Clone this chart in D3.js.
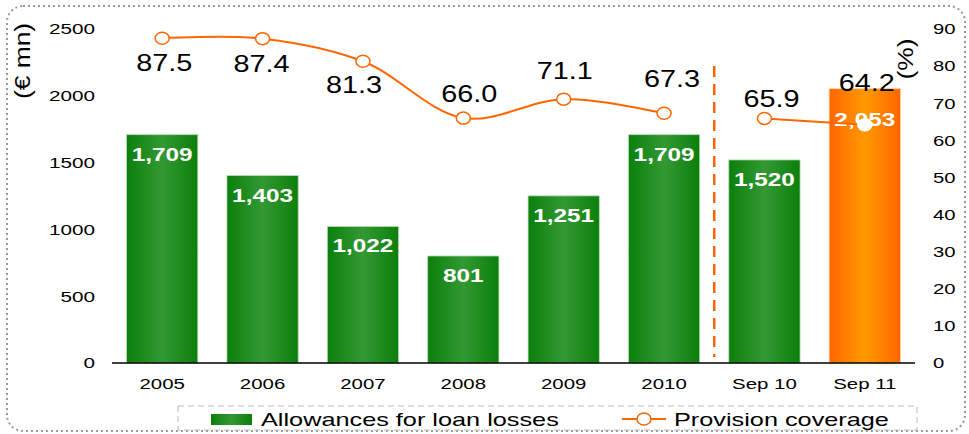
<!DOCTYPE html>
<html>
<head>
<meta charset="utf-8">
<script src="https://cdn.jsdelivr.net/npm/d3@7"></script>
<style>
  body { margin: 0; background: #fff; }
  svg { font-family: "Liberation Sans", Arial, sans-serif; }
</style>
</head>
<body>
<div id="chart"></div>
<script>
// data
const categories = ["2005", "2006", "2007", "2008", "2009", "2010", "Sep 10", "Sep 11"];
const allowances = [1709, 1403, 1022, 801, 1251, 1709, 1520, 2053];
const coverage = [87.5, 87.4, 81.3, 66.0, 71.1, 67.3, 65.9, 64.2];

const leftTicks = [0, 500, 1000, 1500, 2000, 2500];
const rightTicks = [0, 10, 20, 30, 40, 50, 60, 70, 80, 90];

// where each coverage label sits relative to its point (layout only)
const covLabelDx = [2, -1, -9, 6, 1, 8, 7, 2];
const covLabelDy = [33, 33, 32, -16, -20, -26, -11, -34];

const W = 969, H = 434;
const X0 = 112, X1 = 915, Y0 = 363, Y1 = 29;

const svg = d3.select("#chart").append("svg")
  .attr("width", W).attr("height", H);

// the source fonts are drawn wide, so stretch text horizontally
function stretch(sel, k) {
  sel.each(function() {
    const w = this.getComputedTextLength();
    d3.select(this).attr("textLength", w * k).attr("lengthAdjust", "spacingAndGlyphs");
  });
}

const defs = svg.append("defs");
function barGradient(id, edge, mid) {
  const g = defs.append("linearGradient").attr("id", id)
    .attr("x1", "0%").attr("x2", "100%").attr("y1", "0%").attr("y2", "0%");
  g.append("stop").attr("offset", "0%").attr("stop-color", edge);
  g.append("stop").attr("offset", "50%").attr("stop-color", mid);
  g.append("stop").attr("offset", "100%").attr("stop-color", edge);
}
barGradient("green", "#0b7f0b", "#339933");
barGradient("orange", "#ff6600", "#ff9900");

// outer dotted frame
svg.append("rect")
  .attr("x", 7).attr("y", 6).attr("width", 958).attr("height", 425)
  .attr("rx", 16).attr("ry", 16)
  .attr("fill", "none").attr("stroke", "#999").attr("stroke-width", 2)
  .attr("stroke-dasharray", "2,3");

const x = d3.scaleBand().domain(categories).range([X0, X1]).paddingInner(0.29).paddingOuter(0.145);
const yL = d3.scaleLinear().domain([0, 2500]).range([Y0, Y1]);
const yR = d3.scaleLinear().domain([0, 90]).range([Y0, Y1]);
const last = categories.length - 1;

// bars
svg.append("g").selectAll("rect")
  .data(allowances)
  .join("rect")
  .attr("x", (d, i) => x(categories[i]))
  .attr("y", d => yL(d))
  .attr("width", x.bandwidth())
  .attr("height", d => Y0 - yL(d))
  .attr("fill", (d, i) => i === last ? "url(#orange)" : "url(#green)")
  .attr("stroke", (d, i) => i === last ? "#ffcc99" : "#b9dcb9")
  .attr("stroke-width", 0.8);

// bar value labels
svg.append("g").selectAll("text")
  .data(allowances)
  .join("text")
  .attr("x", (d, i) => x(categories[i]) + x.bandwidth() / 2)
  .attr("y", (d, i) => yL(d) + (i === last ? 37 : 26))
  .attr("text-anchor", "middle")
  .attr("fill", "#fff")
  .attr("font-weight", "bold")
  .attr("font-size", 19)
  .text(d => d3.format(",")(d))
  .call(stretch, 1.28);

// baseline
svg.append("line")
  .attr("x1", X0).attr("x2", X1).attr("y1", Y0).attr("y2", Y0)
  .attr("stroke", "#000").attr("stroke-width", 1.5);

// left axis
const axL = svg.append("g").attr("transform", `translate(${X0 - 17},0)`)
  .call(d3.axisLeft(yL).tickValues(leftTicks).tickSize(0).tickPadding(0).tickFormat(d3.format("d")));
axL.select(".domain").remove();
axL.selectAll("text").attr("font-size", 15).attr("font-family", "Liberation Sans, Arial, sans-serif").attr("fill", "#000")
  .call(stretch, 1.38);

// right axis
const axR = svg.append("g").attr("transform", `translate(${X1 + 18},0)`)
  .call(d3.axisRight(yR).tickValues(rightTicks).tickSize(0).tickPadding(0));
axR.select(".domain").remove();
axR.selectAll("text").attr("font-size", 15).attr("font-family", "Liberation Sans, Arial, sans-serif").attr("fill", "#000")
  .call(stretch, 1.35);

// category labels
svg.append("g").selectAll("text")
  .data(categories)
  .join("text")
  .attr("x", d => x(d) + x.bandwidth() / 2)
  .attr("y", Y0 + 26)
  .attr("text-anchor", "middle")
  .attr("font-size", 15)
  .text(d => d)
  .call(stretch, 1.36);

// axis titles
svg.append("text")
  .attr("transform", "translate(30,61) rotate(-90)")
  .attr("text-anchor", "middle").attr("font-size", 22).text("(€ mn)")
  .call(stretch, 1.2);
svg.append("text")
  .attr("transform", "translate(913,59) rotate(-90)")
  .attr("text-anchor", "middle").attr("font-size", 22).text("(%)")
  .call(stretch, 1.2);

// dashed separator between 2010 and Sep 10
const sepX = (x(categories[5]) + x.bandwidth() + x(categories[6])) / 2;
svg.append("line")
  .attr("x1", sepX).attr("x2", sepX).attr("y1", 66).attr("y2", 357)
  .attr("stroke", "#ff6600").attr("stroke-width", 2.5).attr("stroke-dasharray", "11,7");

// coverage line (annual part and quarterly part drawn separately)
const cx = i => x(categories[i]) + x.bandwidth() / 2;
const line = d3.line().x(d => cx(d)).y(d => yR(coverage[d])).curve(d3.curveCatmullRom.alpha(0.5));
[[0, 1, 2, 3, 4, 5], [6, 7]].forEach(seg => {
  svg.append("path")
    .attr("d", line(seg))
    .attr("fill", "none").attr("stroke", "#ff6600").attr("stroke-width", 2);
});

svg.append("g").selectAll("ellipse")
  .data(coverage)
  .join("ellipse")
  .attr("cx", (d, i) => cx(i))
  .attr("cy", d => yR(d))
  .attr("rx", 7).attr("ry", 6)
  .attr("fill", "#fff")
  .attr("stroke", (d, i) => i === last ? "#fff" : "#ff6600")
  .attr("stroke-width", 1.5);

svg.append("g").selectAll("text")
  .data(coverage)
  .join("text")
  .attr("x", (d, i) => cx(i) + covLabelDx[i])
  .attr("y", (d, i) => yR(d) + covLabelDy[i])
  .attr("text-anchor", "middle")
  .attr("font-size", 24)
  .attr("fill", "#000")
  .text(d => d.toFixed(1))
  .call(stretch, 1.2);

// legend
const lg = svg.append("g");
lg.append("rect")
  .attr("x", 178).attr("y", 406).attr("width", 739).attr("height", 24)
  .attr("fill", "none").attr("stroke", "#bbb").attr("stroke-dasharray", "6,4");
lg.append("rect")
  .attr("x", 211).attr("y", 414).attr("width", 41).attr("height", 11)
  .attr("fill", "url(#green)");
lg.append("text").attr("x", 261).attr("y", 426).attr("font-size", 19).text("Allowances for loan losses")
  .call(stretch, 1.33);
lg.append("line").attr("x1", 622).attr("x2", 666).attr("y1", 419).attr("y2", 419)
  .attr("stroke", "#ff6600").attr("stroke-width", 2);
lg.append("ellipse").attr("cx", 644).attr("cy", 419).attr("rx", 7).attr("ry", 6)
  .attr("fill", "#fff").attr("stroke", "#ff6600").attr("stroke-width", 1.5);
lg.append("text").attr("x", 674).attr("y", 426).attr("font-size", 19).text("Provision coverage")
  .call(stretch, 1.33);
</script>
</body>
</html>
